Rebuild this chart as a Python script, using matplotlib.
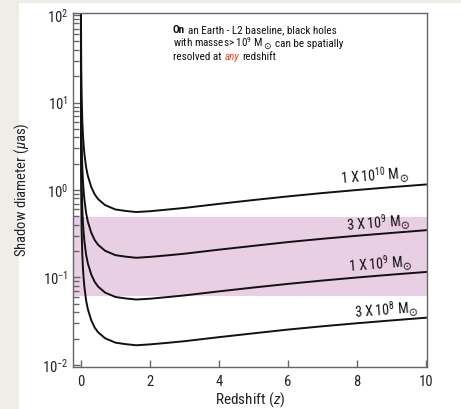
import matplotlib
matplotlib.use("Agg")
import matplotlib.pyplot as plt
import numpy as np
from matplotlib import font_manager
from matplotlib.patches import Rectangle

# pick a narrow font if there is one
names = {f.name for f in font_manager.fontManager.ttflist}
font = "DejaVu Sans"
for cand in ["Liberation Sans Narrow", "Roboto Condensed", "Open Sans Condensed", "Liberation Sans"]:
    if cand in names:
        font = cand
        break

plt.rcParams["font.family"] = [font, "DejaVu Sans"]
plt.rcParams["mathtext.fontset"] = "custom"
plt.rcParams["mathtext.rm"] = font
plt.rcParams["mathtext.it"] = font + ":italic"
plt.rcParams["mathtext.bf"] = font + ":bold"

# values
z = [0.00005, 0.0001, 0.0003, 0.001, 0.003, 0.005, 0.01, 0.02, 0.04, 0.06, 0.08,
     0.1, 0.15, 0.2, 0.3, 0.4, 0.5, 0.7, 1.0, 1.3, 1.6, 2.0, 2.5, 3, 4, 5, 6, 7, 8, 9, 10]

d_1e10 = [4600, 2300, 770, 231, 77, 46, 23.3, 11.8, 6.06, 4.15, 3.2,
          2.6, 1.82, 1.45, 1.08, 0.89, 0.785, 0.672, 0.599, 0.576, 0.56, 0.572, 0.597,
          0.624, 0.694, 0.768, 0.845, 0.923, 1.0, 1.078, 1.156]
d_3e9 = [1380, 690, 231, 69, 23, 13.9, 7.0, 3.54, 1.82, 1.245, 0.96,
         0.78, 0.546, 0.435, 0.324, 0.267, 0.236, 0.202, 0.18, 0.173, 0.168, 0.172, 0.179,
         0.187, 0.208, 0.23, 0.254, 0.277, 0.3, 0.323, 0.347]
d_1e9 = [460, 230, 77, 23.1, 7.7, 4.6, 2.33, 1.18, 0.606, 0.415, 0.32,
         0.26, 0.182, 0.145, 0.108, 0.089, 0.0785, 0.0672, 0.0599, 0.0576, 0.056, 0.0572, 0.0597,
         0.0624, 0.0694, 0.0768, 0.0845, 0.0923, 0.1, 0.1078, 0.1156]
d_3e8 = [138, 69, 23.1, 6.9, 2.3, 1.39, 0.70, 0.354, 0.182, 0.1245, 0.096,
         0.078, 0.0546, 0.0435, 0.0324, 0.0267, 0.0236, 0.0202, 0.018, 0.0173, 0.0168, 0.0172, 0.0179,
         0.0187, 0.0208, 0.023, 0.0254, 0.0277, 0.03, 0.0323, 0.0347]

curves = [d_1e10, d_3e9, d_1e9, d_3e8]
labels = [r"1 X 10$^{10}$ M", r"3 X 10$^{9}$ M", r"1 X 10$^{9}$ M", r"3 X 10$^{8}$ M"]
label_pos = [(7.5, 1.46), (7.68, 0.425), (7.74, 0.144), (7.91, 0.043)]

band = (0.062, 0.49)

fig = plt.figure(figsize=(4.61, 4.09), dpi=100)
fig.patch.set_facecolor("#eeeee6")
fig.patches.append(Rectangle((19 / 461, 0), 1, 1 - 3 / 409, transform=fig.transFigure,
                             facecolor="white", edgecolor="none", zorder=-10))

ax = fig.add_axes([73 / 461, 1 - 367 / 409, 354 / 461, 354 / 409])
ax.set_zorder(1)
ax.patch.set_alpha(0)
ax.set_yscale("log")
ax.set_xlim(-0.23, 10.03)
ax.set_ylim(10 ** -2.023, 10 ** 2.023)

ax.axhspan(band[0], band[1], color="#e8cfe3", lw=0, zorder=0)

for d in curves:
    ax.plot(z, d, color="#111111", lw=1.4, zorder=2)

for lab, (xp, yp) in zip(labels, label_pos):
    t = ax.text(xp, yp, lab, fontsize=10, ha="left", va="center", rotation=4.5, color="#111111")
    # solar symbol as a lowered trailing glyph
    ax.annotate("\u2299", xy=(1, 0), xycoords=t, xytext=(-0.8, 2.0), textcoords="offset points",
                ha="left", va="bottom", rotation=4.5, fontsize=8, family="DejaVu Sans",
                color="#111111")

for s in ax.spines.values():
    s.set_color("#666666")
    s.set_linewidth(1.0)

ax.set_xticks([0, 2, 4, 6, 8, 10])
ax.tick_params(axis="both", which="both", direction="in", colors="#666666", labelcolor="#222222",
               labelsize=10.5, top=False, right=False)
ax.tick_params(axis="both", which="major", length=5, width=1)
ax.tick_params(axis="y", which="minor", length=4, width=1)
ax.tick_params(axis="x", which="major", pad=6)

ax.set_xlabel("Redshift ($z$)", fontsize=11, color="#222222")
ax.set_ylabel(r"Shadow diameter ($\mu$as)", fontsize=10.5, color="#222222")
ax.xaxis.set_label_coords(0.5, -0.066)
ax.yaxis.set_label_coords(-0.119, 0.5)

# annotation at the top, built piece by piece
kw = dict(fontsize=8, color="#111111")
t = ax.text(0.282, 0.9435, "On", transform=ax.transAxes, fontweight="bold", va="baseline", **kw)
ax.annotate("an Earth - L2 baseline, black holes", xy=(1, 0), xycoords=t,
            xytext=(2.2, 0), textcoords="offset points", va="bottom", **kw)
t = ax.text(0.282, 0.904, r"with masses> 10$^9$ M", transform=ax.transAxes, va="baseline", **kw)
t2 = ax.annotate("\u2299", xy=(1, 0), xycoords=t, xytext=(0.2, -1.5), textcoords="offset points",
                 va="bottom", fontsize=6.5, family="DejaVu Sans", color="#111111")
ax.annotate("can be spatially", xy=(1, 0), xycoords=t2, xytext=(3.0, 1.5), textcoords="offset points",
            va="bottom", **kw)
t = ax.text(0.282, 0.867, "resolved at", transform=ax.transAxes, va="baseline", **kw)
t2 = ax.annotate("any", xy=(1, 0), xycoords=t, xytext=(2.2, 0), textcoords="offset points",
                 va="bottom", fontsize=8, color="#e8452c", fontstyle="italic")
ax.annotate("redshift", xy=(1, 0), xycoords=t2, xytext=(2.2, 0), textcoords="offset points",
            va="bottom", **kw)

fig.savefig("out.png", dpi=100)
